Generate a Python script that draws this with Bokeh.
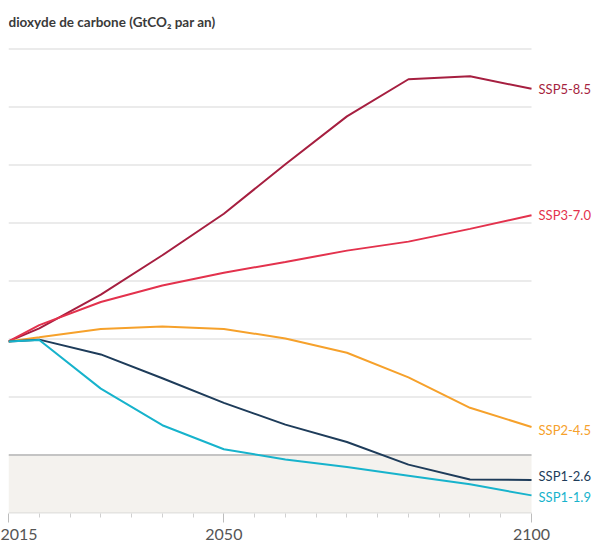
from bokeh.plotting import figure
from bokeh.models import Range1d, FixedTicker
from bokeh.core.properties import value
from bokeh.embed import file_html
from bokeh.resources import INLINE

# ---- data (GtCO2 per year) ----
years = [2015, 2020, 2030, 2040, 2050, 2060, 2070, 2080, 2090, 2100]
ssp119 = [39.2, 39.7, 22.9, 10.3, 2.0, -1.5, -4.1, -7.1, -10.1, -13.9]
ssp126 = [39.2, 39.8, 34.7, 26.5, 18.0, 10.5, 4.5, -3.3, -8.4, -8.6]
ssp245 = [39.2, 40.6, 43.5, 44.3, 43.5, 40.2, 35.3, 26.8, 16.3, 9.7]
ssp370 = [39.2, 44.8, 52.8, 58.5, 62.9, 66.6, 70.5, 73.6, 78.0, 82.7]
ssp585 = [39.2, 43.7, 55.3, 68.9, 83.2, 100.3, 116.8, 129.6, 130.6, 126.3]

scenario_names = ["SSP5-8.5", "SSP3-7.0", "SSP2-4.5", "SSP1-2.6", "SSP1-1.9"]
scenario_values = [ssp585, ssp370, ssp245, ssp126, ssp119]
scenario_colors = ["#a61f40", "#e3324d", "#f6a12b", "#1e3c5a", "#17b3cc"]
label_nudge_px = [0, 0, 3, -4, 2]

x_major_ticks = [2015, 2050, 2100]
x_minor_ticks = [2020, 2025, 2030, 2035, 2040, 2045, 2055, 2060, 2065,
                 2070, 2075, 2080, 2085, 2090, 2095]
y_grid_values = [20, 40, 60, 80, 100, 120, 140]
y_min = -20
title_text = "dioxyde de carbone (GtCO₂ par an)"

FONT = "Lato"

p = figure(width=596, height=545, output_backend="svg", toolbar_location=None,
           x_range=Range1d(2015, 2110.56), y_range=Range1d(y_min - 0.15, 156.75),
           y_axis_location=None,
           min_border_left=8, min_border_right=0, min_border_top=0,
           min_border_bottom=32)
p.outline_line_color = None
p.background_fill_color = "white"
p.border_fill_color = "white"
p.xgrid.visible = False
p.ygrid.visible = False

x0, x1 = years[0], years[-1]

# shaded negative region
p.quad(left=[x0], right=[x1], bottom=[y_min - 0.15], top=[0],
       fill_color="#f4f2ee", line_color=None)

# horizontal grid lines (ending at 2100)
p.segment(x0=[x0] * len(y_grid_values), x1=[x1] * len(y_grid_values),
          y0=y_grid_values, y1=y_grid_values,
          line_color="#e4e4e4", line_width=1.5)
# zero line
p.segment(x0=[x0], x1=[x1], y0=[0], y1=[0], line_color="#c4c4c4", line_width=2)
# axis baseline (ending at 2100)
p.segment(x0=[x0], x1=[x1], y0=[y_min], y1=[y_min], line_color="#d2d2d2",
          line_width=1)

# x axis ticks and labels
ax = p.xaxis[0]
ax.ticker = FixedTicker(ticks=x_major_ticks, minor_ticks=x_minor_ticks)
ax.axis_line_color = None
ax.major_tick_line_color = "#bdbdbd"
ax.major_tick_in = 0
ax.major_tick_out = 9
ax.minor_tick_line_color = "#d0d0d0"
ax.minor_tick_in = 0
ax.minor_tick_out = 4
ax.major_label_text_font = FONT
ax.major_label_text_font_size = "16px"
ax.major_label_text_color = "#555555"
ax.major_label_standoff = 6

# scenario lines
for vals, col in zip(scenario_values, scenario_colors):
    p.line(years, vals, line_color=col, line_width=2)

# end labels
p.text(x=[x1] * len(scenario_names), y=[v[-1] for v in scenario_values],
       text=scenario_names, text_color=scenario_colors,
       x_offset=7, y_offset=label_nudge_px,
       text_align="left", text_baseline="middle",
       text_font=value(FONT), text_font_size="13px")

# heading (visible part of the unit line)
p.text(x=[x0], y=[149.5], text=[title_text], text_align="left",
       text_baseline="alphabetic", text_font=value(FONT),
       text_font_size="13.5px", text_font_style="bold", text_color="#3a3a3a")

open("out.html", "w").write(file_html(p, INLINE))
